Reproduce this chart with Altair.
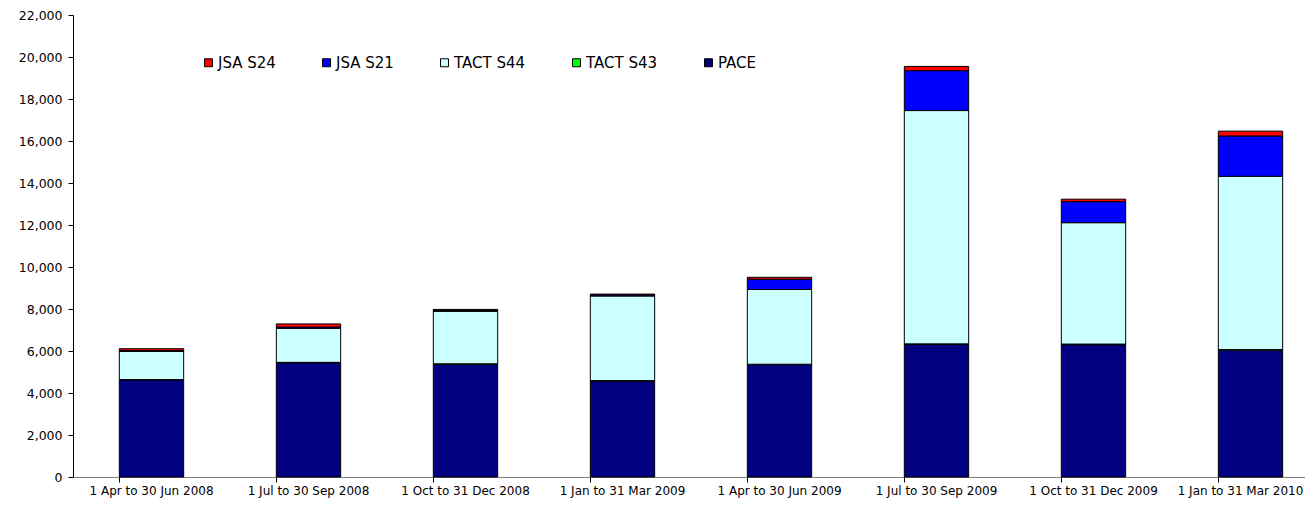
import altair as alt
import pandas as pd

categories = ["1 Apr to 30 Jun 2008", "1 Jul to 30 Sep 2008", "1 Oct to 31 Dec 2008",
              "1 Jan to 31 Mar 2009", "1 Apr to 30 Jun 2009", "1 Jul to 30 Sep 2009",
              "1 Oct to 31 Dec 2009", "1 Jan to 31 Mar 2010"]
series = ["JSA S24", "JSA S21", "TACT S44", "TACT S43", "PACE"]
colors = ["#FF0000", "#0000FF", "#CCFFFF", "#00FF00", "#000080"]
pace = [4620, 5440, 5370, 4570, 5350, 6310, 6300, 6040]
tact_s43 = [20, 20, 20, 20, 20, 30, 30, 30]
tact_s44 = [1340, 1620, 2500, 4030, 3560, 11110, 5780, 8250]
jsa_s21 = [40, 60, 50, 50, 490, 1900, 1000, 1920]
jsa_s24 = [90, 150, 40, 40, 90, 200, 120, 230]

values = {"PACE": pace, "TACT S43": tact_s43, "TACT S44": tact_s44,
          "JSA S21": jsa_s21, "JSA S24": jsa_s24}
stack_order = {"PACE": 0, "TACT S43": 1, "TACT S44": 2, "JSA S21": 3, "JSA S24": 4}

rows = []
for s, vals in values.items():
    for c, v in zip(categories, vals):
        rows.append({"period": c, "series": s, "value": v, "ord": stack_order[s]})
df = pd.DataFrame(rows)

FONT = "DejaVu Sans"

xscale = alt.Scale(domain=categories, range=[0, 1256], paddingInner=0.59, paddingOuter=0.295)

last_label = categories[-1]

bars = alt.Chart(df).mark_bar(stroke="black", strokeWidth=1).encode(
    x=alt.X("period:N", sort=categories, scale=xscale, title=None,
            axis=alt.Axis(labelAngle=0, ticks=False, domain=True, domainColor="#808080",
                          labelFont=FONT, labelFontSize=12, labelColor="black",
                          labelPadding=8, orient="bottom",
                          labelOffset=alt.ExprRef(
                              expr=f"datum.label == '{last_label}' ? -10 : 0"))),
    y=alt.Y("value:Q", stack="zero", title=None,
            scale=alt.Scale(domain=[0, 22000], nice=False),
            axis=alt.Axis(values=list(range(0, 22001, 2000)), format=",d", grid=False,
                          domainColor="black", tickColor="black", tickSize=5,
                          labelFont=FONT, labelFontSize=12.5, labelColor="black",
                          labelPadding=6)),
    color=alt.Color("series:N", scale=alt.Scale(domain=series, range=colors),
                    legend=alt.Legend(title=None, orient="none", direction="horizontal",
                                      legendX=128, legendY=40, symbolType="square",
                                      symbolSize=64, symbolStrokeColor="black",
                                      symbolStrokeWidth=1, labelFont=FONT,
                                      labelFontSize=15, labelColor="black",
                                      columnPadding=43, labelOffset=2)),
    order=alt.Order("ord:Q", sort="ascending"),
)

ticks = alt.Chart(pd.DataFrame({"period": categories})).mark_rule(opacity=0).encode(
    x=alt.X("period:N", sort=categories, scale=xscale, title=None,
            axis=alt.Axis(labels=False, ticks=True, domain=False, bandPosition=0,
                          tickColor="black", tickSize=5, orient="bottom")),
)

chart = alt.layer(bars, ticks).resolve_axis(x="independent").properties(
    width=1232, height=462,
    autosize=alt.AutoSizeParams(type="none"),
    padding={"left": 65, "top": 7, "right": 0, "bottom": 25},
).configure_view(stroke=None)

chart.save("out.html", embed_options={"renderer": "svg", "actions": False})
